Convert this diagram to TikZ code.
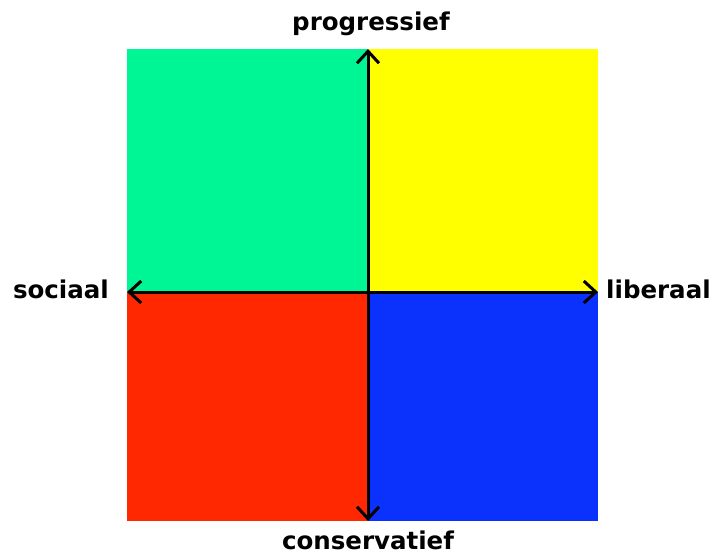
\documentclass[tikz,border=0pt]{standalone}
\usepackage{fontspec}
\setsansfont{DejaVu Sans}
\usetikzlibrary{arrows.meta,positioning}
\definecolor{quadgreen}{RGB}{0,245,148}
\definecolor{quadyellow}{RGB}{255,255,0}
\definecolor{quadred}{RGB}{255,40,0}
\definecolor{quadblue}{RGB}{10,50,252}
\tikzset{
  axis/.style={{Straight Barb[length=12pt,width=22pt]}-{Straight Barb[length=12pt,width=22pt]}, line width=3pt, black},
  axislabel/.style={font=\sffamily\bfseries\fontsize{24.5}{29}\selectfont, inner sep=0pt}
}
\begin{document}
\begin{tikzpicture}[x=1pt,y=-1pt]
\useasboundingbox (0,0) rectangle (713,557);

% quadrants
\fill[quadgreen] (127,49) rectangle (368,292);
\fill[quadyellow] (368,49) rectangle (598,292);
\fill[quadred] (127,292) rectangle (368,521);
\fill[quadblue] (368,292) rectangle (598,521);

\coordinate (top) at (368,49);
\coordinate (bottom) at (368,521);
\coordinate (left) at (127,292);
\coordinate (right) at (598,292);

\draw[axis] (left) -- (right);
\draw[axis] (bottom) -- (top);

\node[axislabel, above=13pt of top, xshift=3pt] (progressief) {progressief};
\node[axislabel, below=10pt of bottom] (conservatief) {conservatief};
\node[axislabel, left=18pt of left, yshift=3pt] (sociaal) {sociaal};
\node[axislabel, right=8pt of right, yshift=3pt] (liberaal) {liberaal};
\end{tikzpicture}
\end{document}
